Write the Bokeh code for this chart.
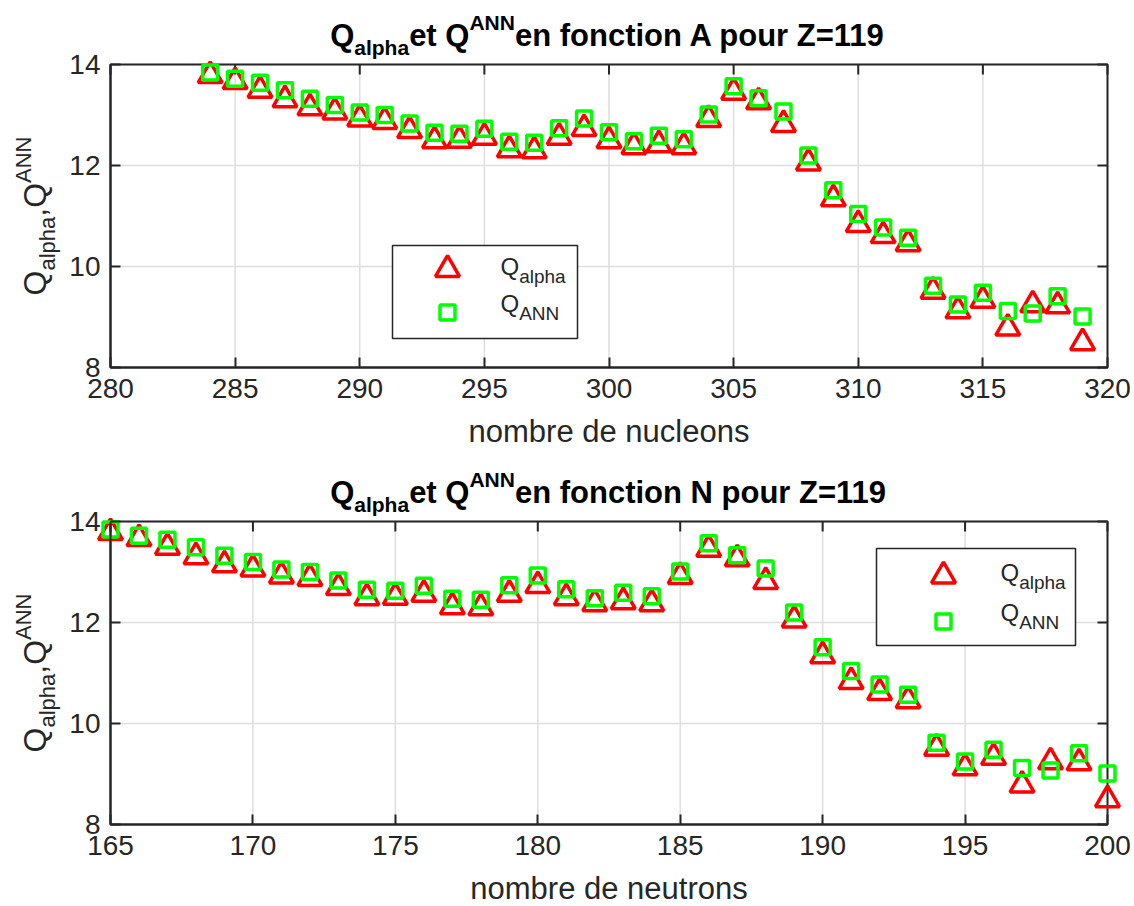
import math
from bokeh.plotting import figure
from bokeh.models import Range1d, FixedTicker, Label, ColumnDataSource
from bokeh.transform import dodge
from bokeh.layouts import column
from bokeh.embed import file_html
from bokeh.resources import INLINE

# ---------------- data ----------------
nucleons = [284, 285, 286, 287, 288, 289, 290, 291, 292, 293, 294, 295, 296, 297, 298, 299, 300, 301,
            302, 303, 304, 305, 306, 307, 308, 309, 310, 311, 312, 313, 314, 315, 316, 317, 318, 319]
neutrons = [165, 166, 167, 168, 169, 170, 171, 172, 173, 174, 175, 176, 177, 178, 179, 180, 181, 182,
            183, 184, 185, 186, 187, 188, 189, 190, 191, 192, 193, 194, 195, 196, 197, 198, 199, 200]
q_alpha = [13.85, 13.73, 13.56, 13.37, 13.21, 13.13, 12.99, 12.94, 12.76, 12.56, 12.57, 12.63,
           12.38, 12.36, 12.63, 12.80, 12.56, 12.44, 12.48, 12.44, 12.98, 13.52, 13.33, 12.88,
           12.12, 11.41, 10.90, 10.68, 10.52, 9.58, 9.19, 9.40, 8.85, 9.31, 9.29, 8.56]
q_ann = [13.84, 13.72, 13.64, 13.49, 13.32, 13.20, 13.05, 13.00, 12.83, 12.65, 12.63, 12.73,
         12.47, 12.45, 12.74, 12.93, 12.66, 12.48, 12.59, 12.52, 13.01, 13.57, 13.33, 13.07,
         12.20, 11.51, 11.04, 10.77, 10.57, 9.62, 9.25, 9.48, 9.12, 9.07, 9.41, 9.01]
ticks_A = [280, 285, 290, 295, 300, 305, 310, 315, 320]
ticks_N = [165, 170, 175, 180, 185, 190, 195, 200]
ticks_Q = [8, 10, 12, 14]

# ---------------- style / layout ----------------
FONT = "Liberation Sans"
AX = "#262626"
W = 1134
BL, BR = 110, 1107          # box left / right (pixels)
BH = 303                    # box height (pixels)
TICK = 10
LIFT = 0.34                 # baseline correction (fraction of font size)
REG = {' ': 278, ',': 278, '=': 584, 'A': 667, 'N': 722, 'Q': 778, 'Z': 611, 'a': 556, 'b': 556,
       'c': 500, 'd': 556, 'e': 556, 'f': 278, 'h': 556, 'i': 222, 'l': 222, 'm': 833, 'n': 556,
       'o': 556, 'p': 556, 'r': 333, 's': 500, 't': 278, 'u': 556}
BOLD = {' ': 278, ',': 278, '=': 584, 'A': 722, 'N': 722, 'Q': 778, 'Z': 611, 'a': 556, 'c': 556,
        'e': 556, 'f': 333, 'h': 611, 'i': 278, 'l': 278, 'n': 611, 'o': 611, 'p': 611, 'r': 389,
        't': 333, 'u': 611}


def tw(s, size, bold):
    t = BOLD if bold else REG
    return sum(t.get(c, 556) for c in s) * size / 1000.0


def rich(p, pieces, start, base, big, small, bold, color, drop, rise, vertical=False, center=False):
    """pieces placed in pixel coordinates of the figure (y downwards)."""
    widths = [tw(s, big if k == "n" else small, bold) for s, k in pieces]
    total = sum(widths)
    if vertical:
        pos = start + total / 2 if center else start
    else:
        pos = start - total / 2 if center else start
    for (s, k), w in zip(pieces, widths):
        size = big if k == "n" else small
        off = (0 if k == "n" else (drop if k == "sub" else -rise)) - LIFT * size
        if vertical:
            x, y, ang = base + off, pos, math.pi / 2
            pos -= w
        else:
            x, y, ang = pos, base + off, 0
            pos += w
        p.add_layout(Label(x=x, y=y, x_range_name="px", y_range_name="py", text=s, angle=ang,
                           text_font=FONT, text_font_size=f"{size}px",
                           text_font_style="bold" if bold else "normal", text_color=color,
                           text_align="left", text_baseline="alphabetic"))


def panel(xs, xticks, letter, xlabel, top_b, bot_b, leg):
    H = top_b + BH + bot_b
    x0, x1 = xticks[0], xticks[-1]
    y0, y1 = ticks_Q[0], ticks_Q[-1]
    ppx = (BR - BL) / (x1 - x0)
    ppy = BH / (y1 - y0)
    p = figure(width=W, height=H,
               x_range=Range1d(x0 - BL / ppx, x1 + (W - BR) / ppx),
               y_range=Range1d(y0 - bot_b / ppy, y1 + top_b / ppy),
               output_backend="svg", toolbar_location=None, min_border=0)
    p.outline_line_color = None
    p.xgrid.visible = False
    p.ygrid.visible = False
    p.extra_x_ranges = {"px": Range1d(0, W)}
    p.extra_y_ranges = {"py": Range1d(H, 0)}

    p.xaxis.fixed_location = y0
    p.xaxis.bounds = (x0, x1)
    p.yaxis.fixed_location = x0
    p.yaxis.bounds = (y0, y1)
    p.xaxis.ticker = FixedTicker(ticks=xticks)
    p.yaxis.ticker = FixedTicker(ticks=ticks_Q)
    for ax in p.axis:
        ax.axis_line_color = AX
        ax.axis_line_width = 2
        ax.major_tick_line_color = AX
        ax.major_tick_line_width = 2
        ax.major_tick_in = TICK
        ax.major_tick_out = 0
        ax.minor_tick_line_color = None
        ax.major_label_text_font = FONT
        ax.major_label_text_font_size = "28px"
        ax.major_label_text_color = AX
    p.xaxis.major_label_standoff = 11
    p.yaxis.major_label_standoff = 10

    nx, ny = len(xticks), len(ticks_Q)
    # grid
    p.segment(x0=xticks, x1=xticks, y0=[y0] * nx, y1=[y1] * nx, line_color="#dedede", line_width=1.5)
    p.segment(x0=[x0] * ny, x1=[x1] * ny, y0=ticks_Q, y1=ticks_Q, line_color="#dedede", line_width=1.5)
    # box with inward ticks on top and right
    p.quad(left=[x0], right=[x1], bottom=[y0], top=[y1], fill_color=None, line_color=AX, line_width=2)
    p.segment(x0=xticks, x1=xticks, y0=[y1] * nx, y1=[y1 - TICK / ppy] * nx, line_color=AX, line_width=2)
    p.segment(x0=[x1] * ny, x1=[x1 - TICK / ppx] * ny, y0=ticks_Q, y1=ticks_Q, line_color=AX, line_width=2)

    # legend box (under the data marks; data never reaches it)
    bl, bt, br, bb, mx, tx, r1, r2 = leg
    p.quad(left=[bl], right=[br], top=[bt], bottom=[bb], x_range_name="px",
           y_range_name="py", fill_color="white", line_color=AX, line_width=1.5)

    src = ColumnDataSource(dict(x=xs, qa=q_alpha, qn=q_ann))
    p.scatter("x", dodge("qa", -0.07), source=src, marker="triangle", size=24,
              fill_color=None, line_color="#ff0000", line_width=3.5)
    p.scatter("x", "qn", source=src, marker="square", size=15,
              fill_color=None, line_color="#00ff00", line_width=3.5)

    # legend samples and texts
    p.scatter(x=[mx], y=[r1 + 3.5], x_range_name="px", y_range_name="py", marker="triangle",
              size=24, fill_color=None, line_color="#ff0000", line_width=3.5)
    p.scatter(x=[mx], y=[r2], x_range_name="px", y_range_name="py", marker="square",
              size=15, fill_color=None, line_color="#00ff00", line_width=3.5)
    rich(p, [("Q", "n"), ("alpha", "sub")], tx, r1 + 8.5, 24, 19, False, AX, 8, 0)
    rich(p, [("Q", "n"), ("ANN", "sub")], tx, r2 - 1, 24, 19, False, AX, 8, 0)

    # title
    rich(p, [("Q", "n"), ("alpha", "sub"), ("et Q", "n"), ("ANN", "sup"),
             (f"en fonction {letter} pour Z=119", "n")],
         (BL + BR) / 2, top_b - 18, 31, 21, True, "black", 8.5, 17, center=True)
    # y label
    rich(p, [("Q", "n"), ("alpha", "sub"), (",Q", "n"), ("ANN", "sup")],
         top_b + BH / 2, 45, 32, 22, False, AX, 9, 15, vertical=True, center=True)
    # x label
    p.add_layout(Label(x=(BL + BR) / 2, y=top_b + BH + 75 - LIFT * 31, x_range_name="px",
                       y_range_name="py", text=xlabel, text_font=FONT, text_font_size="31px",
                       text_color=AX, text_align="center", text_baseline="alphabetic"))
    return p


# legend: box left, top, right, bottom, marker x, text x, row-1 y, row-2 y (pixels in each panel)
p1 = panel(nucleons, ticks_A, "A", "nombre de nucleons", 64, 86,
           (392, 245, 577, 338, 447, 500, 265.5, 312))
p2 = panel(neutrons, ticks_N, "N", "nombre de neutrons", 68, 82,
           (876, 95, 1075, 192, 943, 1000, 119, 168))

layout = column(p1, p2)
open("out.html", "w").write(file_html(layout, INLINE))
